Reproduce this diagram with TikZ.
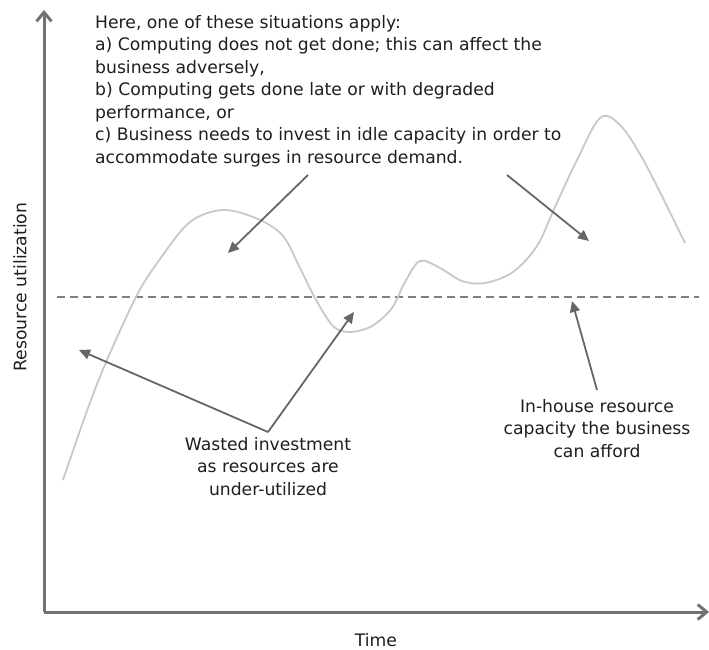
\documentclass[tikz,border=0pt]{standalone}
\usepackage{fontspec}
\setmainfont{DejaVu Sans}
\usetikzlibrary{arrows.meta}
\definecolor{axisgray}{HTML}{737373}
\definecolor{arrowgray}{HTML}{666666}
\definecolor{curvegray}{HTML}{C8C8C8}
\definecolor{dashgray}{HTML}{7F7F7F}
\definecolor{txt}{HTML}{1E1E1E}
\newcommand{\firstline}{\rule{0pt}{14pt}}
\tikzset{
  axisline/.style={draw=axisgray, line width=3pt, -{Straight Barb[length=9pt,width=15pt]}},
  pointer/.style={draw=arrowgray, line width=1.8pt, -{Triangle[length=11pt,width=10pt]}},
  lbl/.style={inner sep=0pt, text=txt, font=\fontsize{17.2}{22.5}\selectfont},
}
\begin{document}
\begin{tikzpicture}[x=1pt,y=-1pt]
\useasboundingbox (0,0) rectangle (709,650);
% axes
\coordinate (O) at (44,612);
\coordinate (ytop) at (44,10);
\coordinate (xend) at (709,612);
\draw[axisline] (O) -- (ytop);
\draw[axisline] (O) -- (xend);
% dashed capacity line
\coordinate (dl) at (57,297);
\coordinate (dr) at (699,297);
\draw[dashgray, line width=1.6pt, dash pattern=on 8pt off 5pt] (dl) -- (dr);
% demand curve
\draw[curvegray, line width=1.8pt] plot[smooth, tension=0.55] coordinates {
 (63,480) (88,408) (107,360) (137,295) (160,259) (190,222) (223,210) (258,219)
 (283,236) (300,268) (315,298) (333,326) (350,332) (372,326) (392,308)
 (405,282) (420,261) (440,268) (462,281) (485,283) (513,272) (537,246)
 (555,207) (577,160) (600,118) (620,125) (645,163) (685,243)};
% labels
\node[lbl, anchor=north west, align=left] (top) at (95,14)
 {\firstline Here, one of these situations apply:\\
  a) Computing does not get done; this can affect the\\
  business adversely,\\
  b) Computing gets done late or with degraded\\
  performance, or\\
  c) Business needs to invest in idle capacity in order to\\
  accommodate surges in resource demand.};
\node[lbl, anchor=north, align=center] (waste) at (268,436)
 {\firstline Wasted investment\\as resources are\\under-utilized};
\node[lbl, anchor=north, align=center] (house) at (597,398)
 {\firstline In-house resource\\capacity the business\\can afford};
\node[lbl, rotate=90] (ylab) at (20,287) {Resource utilization};
\node[lbl] (xlab) at (376,640) {Time};
% pointers
\coordinate (a1s) at (308,175); \coordinate (a1e) at (228,253);
\coordinate (a2s) at (507,175); \coordinate (a2e) at (589,241);
\coordinate (wv) at (268,432);
\coordinate (w1e) at (79,350); \coordinate (w2e) at (354,312);
\coordinate (hs) at (597,390); \coordinate (he) at (572,301);
\draw[pointer] (a1s) -- (a1e);
\draw[pointer] (a2s) -- (a2e);
\draw[pointer] (wv) -- (w1e);
\draw[pointer] (wv) -- (w2e);
\draw[pointer] (hs) -- (he);
\end{tikzpicture}
\end{document}
